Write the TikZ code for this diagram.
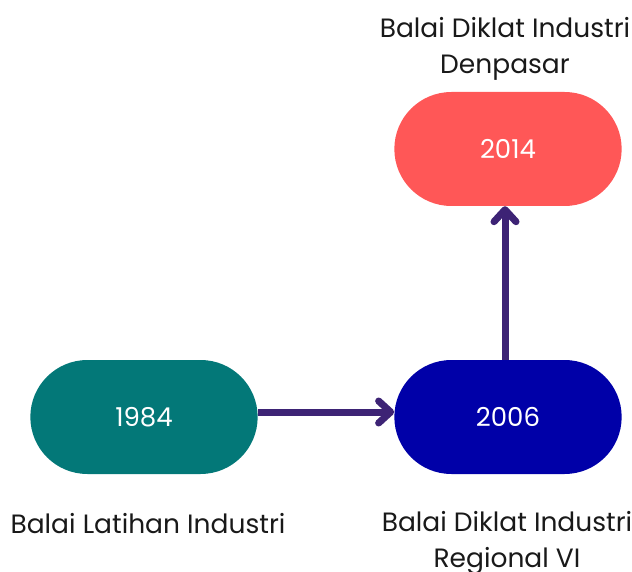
\documentclass[tikz,border=0pt]{standalone}
\usepackage{fontspec}
\setmainfont{Poppins}
\usetikzlibrary{arrows.meta,positioning,shapes.misc}
\definecolor{tealbox}{HTML}{037878}
\definecolor{bluebox}{HTML}{0000A8}
\definecolor{redbox}{HTML}{FF5757}
\definecolor{flowline}{HTML}{3D2375}
\tikzset{
  yearbox/.style={rounded rectangle,minimum width=234pt,minimum height=114pt,
    text=white,font=\fontsize{26}{30}\selectfont},
  caption/.style={align=center,font=\fontsize{26.5}{36}\selectfont,text=black!90},
  flow/.style={line width=7pt,color=flowline,-{Straight Barb[round,length=12pt,width=22pt]}}
}

\begin{document}
\begin{tikzpicture}[x=1pt,y=-1pt]
    \useasboundingbox (0,0) rectangle (632,572);
    \node (y1984) at (144,417) [yearbox,fill=tealbox] {1984};
    \node (y2006) at (508,417) [yearbox,fill=bluebox] {2006};
    \node (y2014) at (508,149) [yearbox,fill=redbox] {2014};
    \node (c1984) at (148,524) [caption] {Balai Latihan Industri};
    \node (c2006) at (507,543) [caption] {Balai Diklat Industri\\Regional VI};
    \node (c2014) at (505,49) [caption] {Balai Diklat Industri\\Denpasar};
    \path [draw,flow] ([yshift=5pt]y1984.east) -- ([yshift=5pt]y2006.west);
    \path [draw,flow] ([xshift=-3pt]y2006.north) -- ([xshift=-3pt]y2014.south);
\end{tikzpicture}
\end{document}
